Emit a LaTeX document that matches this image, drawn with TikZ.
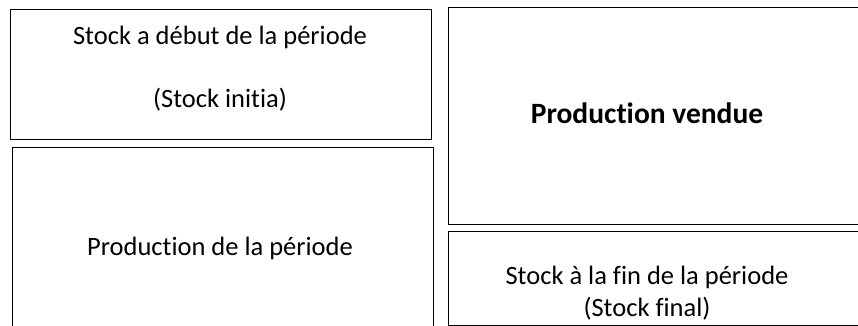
\documentclass[tikz,border=0pt]{standalone}
\usepackage{fontspec}
\setmainfont{Carlito}[Ligatures=NoCommon]
\usetikzlibrary{positioning}
\tikzset{
  box/.style={draw, line width=0.9pt, inner sep=0pt, anchor=north west},
  txt/.style={inner sep=0pt, font=\fontsize{26.5}{32}\selectfont}
}
\begin{document}
\begin{tikzpicture}[x=1pt, y=-1pt]
\useasboundingbox (0,0) rectangle (858,326);
\clip (0,0) rectangle (858,326);

% Left column
\node[box, minimum width=421pt, minimum height=130pt] (initial) at (9.5,9) {};
\node[box, minimum width=421pt, minimum height=200pt] (production) at (12,147) {};

% Right column
\node[box, minimum width=430pt, minimum height=217pt] (vendue) at (448,7) {};
\node[box, minimum width=430pt, minimum height=94pt] (final) at (448,231) {};

% Labels
\node[txt] (initialtitle) at (220,37) {Stock a début de la période};
\node[txt] (initialnote) at (220,100) {(Stock initia)};
\node[txt, font=\fontsize{29.5}{35}\selectfont\bfseries] (venduetitle) at (647,113) {Production vendue};
\node[txt] (productiontitle) at (220,248) {Production de la période};
\node[txt] (finaltitle) at (647,277) {Stock à la fin de la période};
\node[txt] (finalnote) at (647,309) {(Stock final)};
\end{tikzpicture}
\end{document}
